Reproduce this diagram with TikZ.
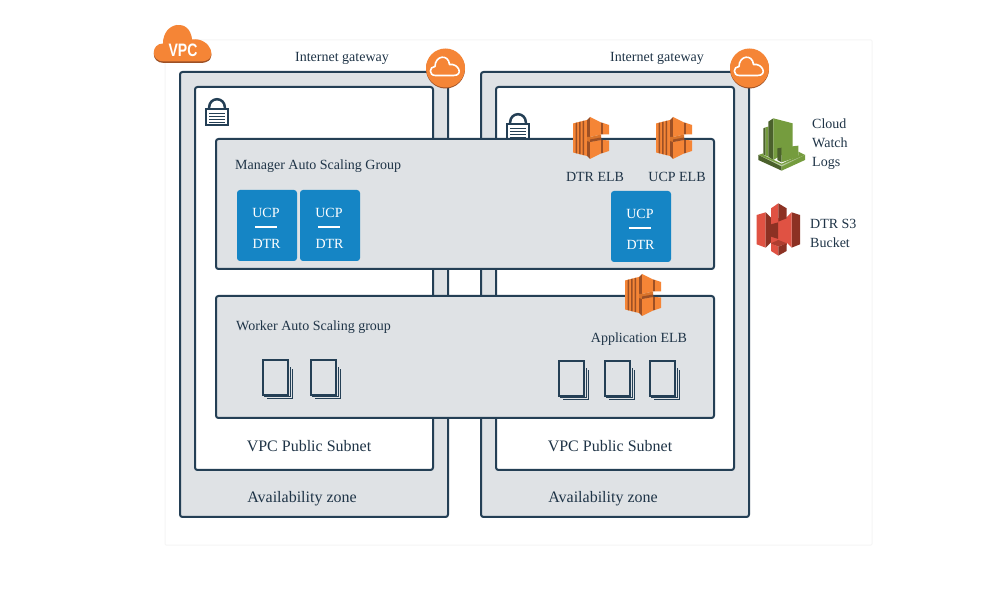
\documentclass[tikz,border=0pt]{standalone}
\usepackage{fontspec}
\usetikzlibrary{calc}
\setmainfont{Liberation Serif}
\newfontfamily\vpcfont[FakeStretch=0.78]{Liberation Sans Bold}
\definecolor{navy}{HTML}{243F55}
\definecolor{zone}{HTML}{DFE2E5}
\definecolor{faint}{HTML}{F5F5F5}
\definecolor{awsor}{HTML}{F58536}
\definecolor{awsdk}{HTML}{9D5025}
\definecolor{awsmd}{HTML}{D9742B}
\definecolor{ucpb}{HTML}{1585C5}
\definecolor{txt}{HTML}{1F3447}
\definecolor{gr}{HTML}{759C3E}
\definecolor{grd}{HTML}{4B612C}
\definecolor{grl}{HTML}{B7CA9D}
\definecolor{rd}{HTML}{E05243}
\definecolor{rdd}{HTML}{8C3123}
\newcommand{\cloudoutline}{(-19,17) .. controls (-33,17) and (-32,-1) .. (-20,-1)
  .. controls (-20,-23) and (7,-27) .. (9,-5)
  .. controls (27,-8) and (38,17) .. (17,17) -- cycle}
\tikzset{
  box/.style={draw=navy,line width=2pt,rounded corners=2.5pt},
  lbl/.style={inner sep=0pt,text=txt,font=\fontsize{#1}{#1}\selectfont,anchor=base},
  lblw/.style={lbl=#1,anchor=base west},
  ucpbox/.style={fill=ucpb,rounded corners=3pt},
  ucptxt/.style={inner sep=0pt,text=white,font=\fontsize{14}{14}\selectfont,anchor=base},
  pics/elbicon/.style={code={
    \fill[awsor] (0,6.5)--(14,3)--(14,39)--(0,35.5)--cycle;
    \fill[awsdk] (2.5,5.9)--(4.2,5.5)--(4.2,36.5)--(2.5,36.1)--cycle;
    \fill[awsdk] (6,5)--(7.7,4.6)--(7.7,37.4)--(6,37)--cycle;
    \fill[awsdk] (9.5,4.1)--(11.2,3.7)--(11.2,38.3)--(9.5,37.9)--cycle;
    \fill[awsdk] (14,3)--(17,0)--(17,42)--(14,39)--cycle;
    \fill[awsor] (17,0)--(28,5.5)--(28,17.5)--(17,20)--cycle;
    \fill[awsor] (17,42)--(28,36.5)--(28,23)--(17,25)--cycle;
    \fill[awsmd] (14,20)--(17,20)--(28,17.5)--(28,23)--(17,25)--(14,24)--cycle;
    \fill[awsdk] (17,22.5)--(28,20.5)--(28,23)--(17,25)--cycle;
    \fill[awsdk] (28,5.5)--(30,6)--(30,17.5)--(28,17.5)--cycle;
    \fill[awsdk] (28,23)--(30,23)--(30,36)--(28,36.5)--cycle;
    \fill[awsor] (30,6)--(36,8)--(36,17.5)--(30,17.5)--cycle;
    \fill[awsor] (30,23)--(36,23.5)--(36,34)--(30,36)--cycle;
  }},
  pics/docicon/.style={code={
    \draw[navy,line width=2pt] (0,0) rectangle (25,35);
    \draw[navy,line width=1.2pt] (1,36.8)--(27.2,36.8)--(27.2,7);
    \draw[navy,line width=1.2pt] (4,38.8)--(29.2,38.8)--(29.2,9.5);
  }},
  pics/lockicon/.style={code={
    \draw[navy,line width=2.5pt] (4.2,11) -- (4.2,9) arc[start angle=180,end angle=360,radius=7.8] -- (19.8,11);
    \fill[white] (0,11) rectangle (24,28);
    \draw[navy,line width=2pt] (1,11.5) rectangle (23,27.5);
    \draw[navy,line width=1pt] (4,15.5)--(20,15.5) (4,18.5)--(20,18.5) (4,21.5)--(20,21.5) (4,24.5)--(20,24.5);
  }},
  pics/gateicon/.style={code={
    \fill[awsdk] (0,1) circle[radius=19.5];
    \fill[awsor] (0,0) circle[radius=19.5];
    \draw[white,line width=1.6pt,line join=round,shift={(-0.5,-1)},scale=0.5] \cloudoutline;
  }},
}
\begin{document}
\begin{tikzpicture}[x=1pt,y=-1pt]
\useasboundingbox (0,0) rectangle (1002,609);
\fill[white] (0,0) rectangle (1002,609);
\draw[faint,line width=1pt,rounded corners=1pt] (165,40) rectangle (872,545);
% zones
\draw[box,fill=zone] (180,72) rectangle (448,517);
\draw[box,fill=zone] (481,72) rectangle (749,517);
\draw[box,fill=white] (195,87) rectangle (433,470);
\draw[box,fill=white] (496,87) rectangle (734,470);
% locks
\pic at (205,98) {lockicon};
\pic at (506,113) {lockicon};
% groups
\draw[box,fill=zone] (216,139) rectangle (714,269);
\draw[box,fill=zone] (216,296) rectangle (714,418);
% VPC cloud
\fill[awsdk,shift={(183,46)}] \cloudoutline;
\fill[awsor,shift={(183,44.5)}] \cloudoutline;
\node[inner sep=0pt,text=white,anchor=base,font=\vpcfont\fontsize{18}{18}\selectfont] (vpc) at (183,57) {VPC};
% gateways
\pic at (445.5,68) {gateicon};
\pic at (749.5,68) {gateicon};
\node[lbl=14] (igw1) at (342,62) {Internet gateway};
\node[lbl=14] (igw2) at (657,62) {Internet gateway};
% ELB
\pic at (573,117) {elbicon};
\pic at (656,117) {elbicon};
\pic at (625,274) {elbicon};
\node[lbl=14] (dtrelb) at (595,182) {DTR ELB};
\node[lbl=14] (ucpelb) at (677,182) {UCP ELB};
\node[lbl=14] (appelb) at (639,343) {Application ELB};
% group labels
\node[lblw=14] (mgr) at (235,170) {Manager Auto Scaling Group};
\node[lblw=14] (wrk) at (236,331) {Worker Auto Scaling group};
% UCP boxes
\foreach \n/\x/\y in {a/237/190,b/300/190,c/611/191}{
  \fill[ucpbox] (\x,\y) rectangle ++(60,71);
  \node[ucptxt] (ucp\n) at ($(\x,\y)+(29,28)$) {UCP};
  \node[ucptxt] (dtr\n) at ($(\x,\y)+(29.5,58.5)$) {DTR};
  \draw[white,line width=2pt] ($(\x,\y)+(18,37)$) -- ++(22,0);
}
% docs
\foreach \x/\y in {263/360,311/360,559/361,605/361,650/361}{
  \pic at (\x,\y) {docicon};
}
% subnet, az labels
\node[lbl=16] (sn1) at (309,452) {VPC Public Subnet};
\node[lbl=16] (sn2) at (610,452) {VPC Public Subnet};
\node[lbl=16] (az1) at (302,503) {Availability zone};
\node[lbl=16] (az2) at (603,503) {Availability zone};
% CloudWatch
\begin{scope}[shift={(745,105)},scale=0.3333]
  \fill[grd] (55,70)--(62,67)--(62,152)--(55,150)--cycle;
  \fill[gr] (62,67)--(70,65)--(70,155)--(62,152)--cycle;
  \fill[grd] (70,50)--(85,40)--(85,165)--(70,155)--cycle;
  \fill[gr] (85,40)--(143,55)--(143,130)--(85,165)--cycle;
  \fill[grd] (97,130)--(110,128)--(110,172)--(97,165)--cycle;
  \fill[gr] (110,128)--(160,122)--(160,155)--(110,172)--cycle;
  \fill[gr] (40,150)--(55,145)--(55,150)--(110,176)--(160,152)--(160,140)--(180,150)--(110,185)--cycle;
  \fill[grl] (40,150)--(110,185)--(180,150)--(110,180)--cycle;
  \fill[grd] (40,150)--(110,185)--(110,197)--(40,165)--cycle;
  \fill[gr] (180,150)--(110,185)--(110,197)--(180,165)--cycle;
\end{scope}
\node[lblw=14] (cw1) at (812,129) {Cloud};
\node[lblw=14] (cw2) at (812,148) {Watch};
\node[lblw=14] (cw3) at (812,167) {Logs};
% S3
\begin{scope}[shift={(745,105)},scale=0.3333]
  \fill[rd] (35,330)--(62,322)--(62,428)--(35,418)--cycle;
  \fill[rdd] (62,322)--(80,340)--(80,410)--(62,428)--cycle;
  \fill[rdd] (165,330)--(140,322)--(140,428)--(165,418)--cycle;
  \fill[rd] (140,322)--(122,340)--(122,410)--(140,428)--cycle;
  \fill[rd] (78,340) rectangle (125,420);
  \fill[rd] (78,310)--(100,295)--(100,350)--(78,340)--cycle;
  \fill[rdd] (125,310)--(100,295)--(100,350)--(125,340)--cycle;
  \fill[rdd] (78,358)--(100,352)--(100,402)--(78,395)--cycle;
  \fill[rd] (125,358)--(100,352)--(100,402)--(125,395)--cycle;
  \fill[rd] (78,415)--(100,425)--(100,452)--(78,438)--cycle;
  \fill[rdd] (125,415)--(100,425)--(100,452)--(125,438)--cycle;
  \fill[rdd!60!rd] (78,415)--(100,405)--(125,415)--(100,425)--cycle;
\end{scope}
\node[lblw=14] (s31) at (810,229) {DTR S3};
\node[lblw=14] (s32) at (810,248) {Bucket};
\end{tikzpicture}
\end{document}
